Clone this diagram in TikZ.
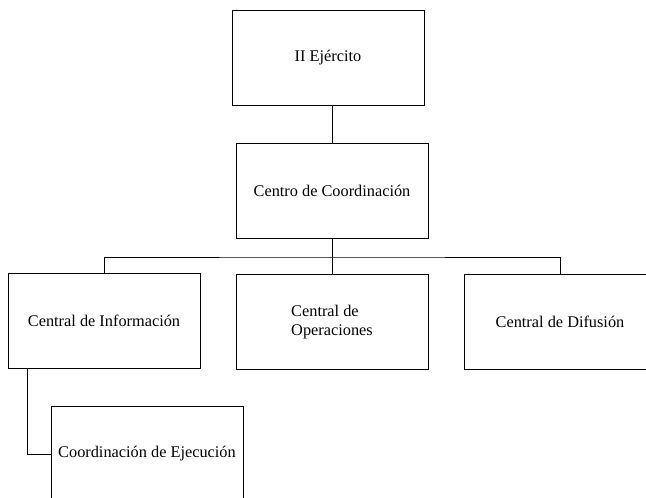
\documentclass[tikz,border=0pt]{standalone}
\usepackage{fontspec}
\setmainfont{Liberation Serif}
\begin{document}
\begin{tikzpicture}[x=0.025cm,y=-0.025cm]

        \useasboundingbox (0,0) rectangle (646,498);

        \begin{scope}[every node/.style={rectangle,draw,line width=0.6pt,
            minimum width=4.8cm,minimum height=2.38cm,
            font=\fontsize{11.6}{13.5}\selectfont}]
          \node (ejercito)  at (328,58)  {II Ejército};
          \node (centro)    at (332,191) {Centro de Coordinación};
          \node (info)      at (104,321) {Central de Información};
          \node (oper)      at (332,322) [align=left] {Central de\\Operaciones};
          \node (difusion)  at (560,322) {Central de Difusión};
          \node (ejecucion) at (147,454) {Coordinación de Ejecución};
        \end{scope}

        \coordinate (bus)  at (332,257);
        \coordinate (drop) at (27,369);

        \begin{scope}[line width=0.6pt]
          \draw (centro.north) -- (centro.north |- ejercito.south);
          \draw (centro.south) -- (bus);
          \draw (info.north) |- (bus) -| (difusion.north);
          \draw (oper.north) -- (oper.north |- bus);
          \draw (drop) |- (ejecucion.west);
        \end{scope}

      \end{tikzpicture}
\end{document}
